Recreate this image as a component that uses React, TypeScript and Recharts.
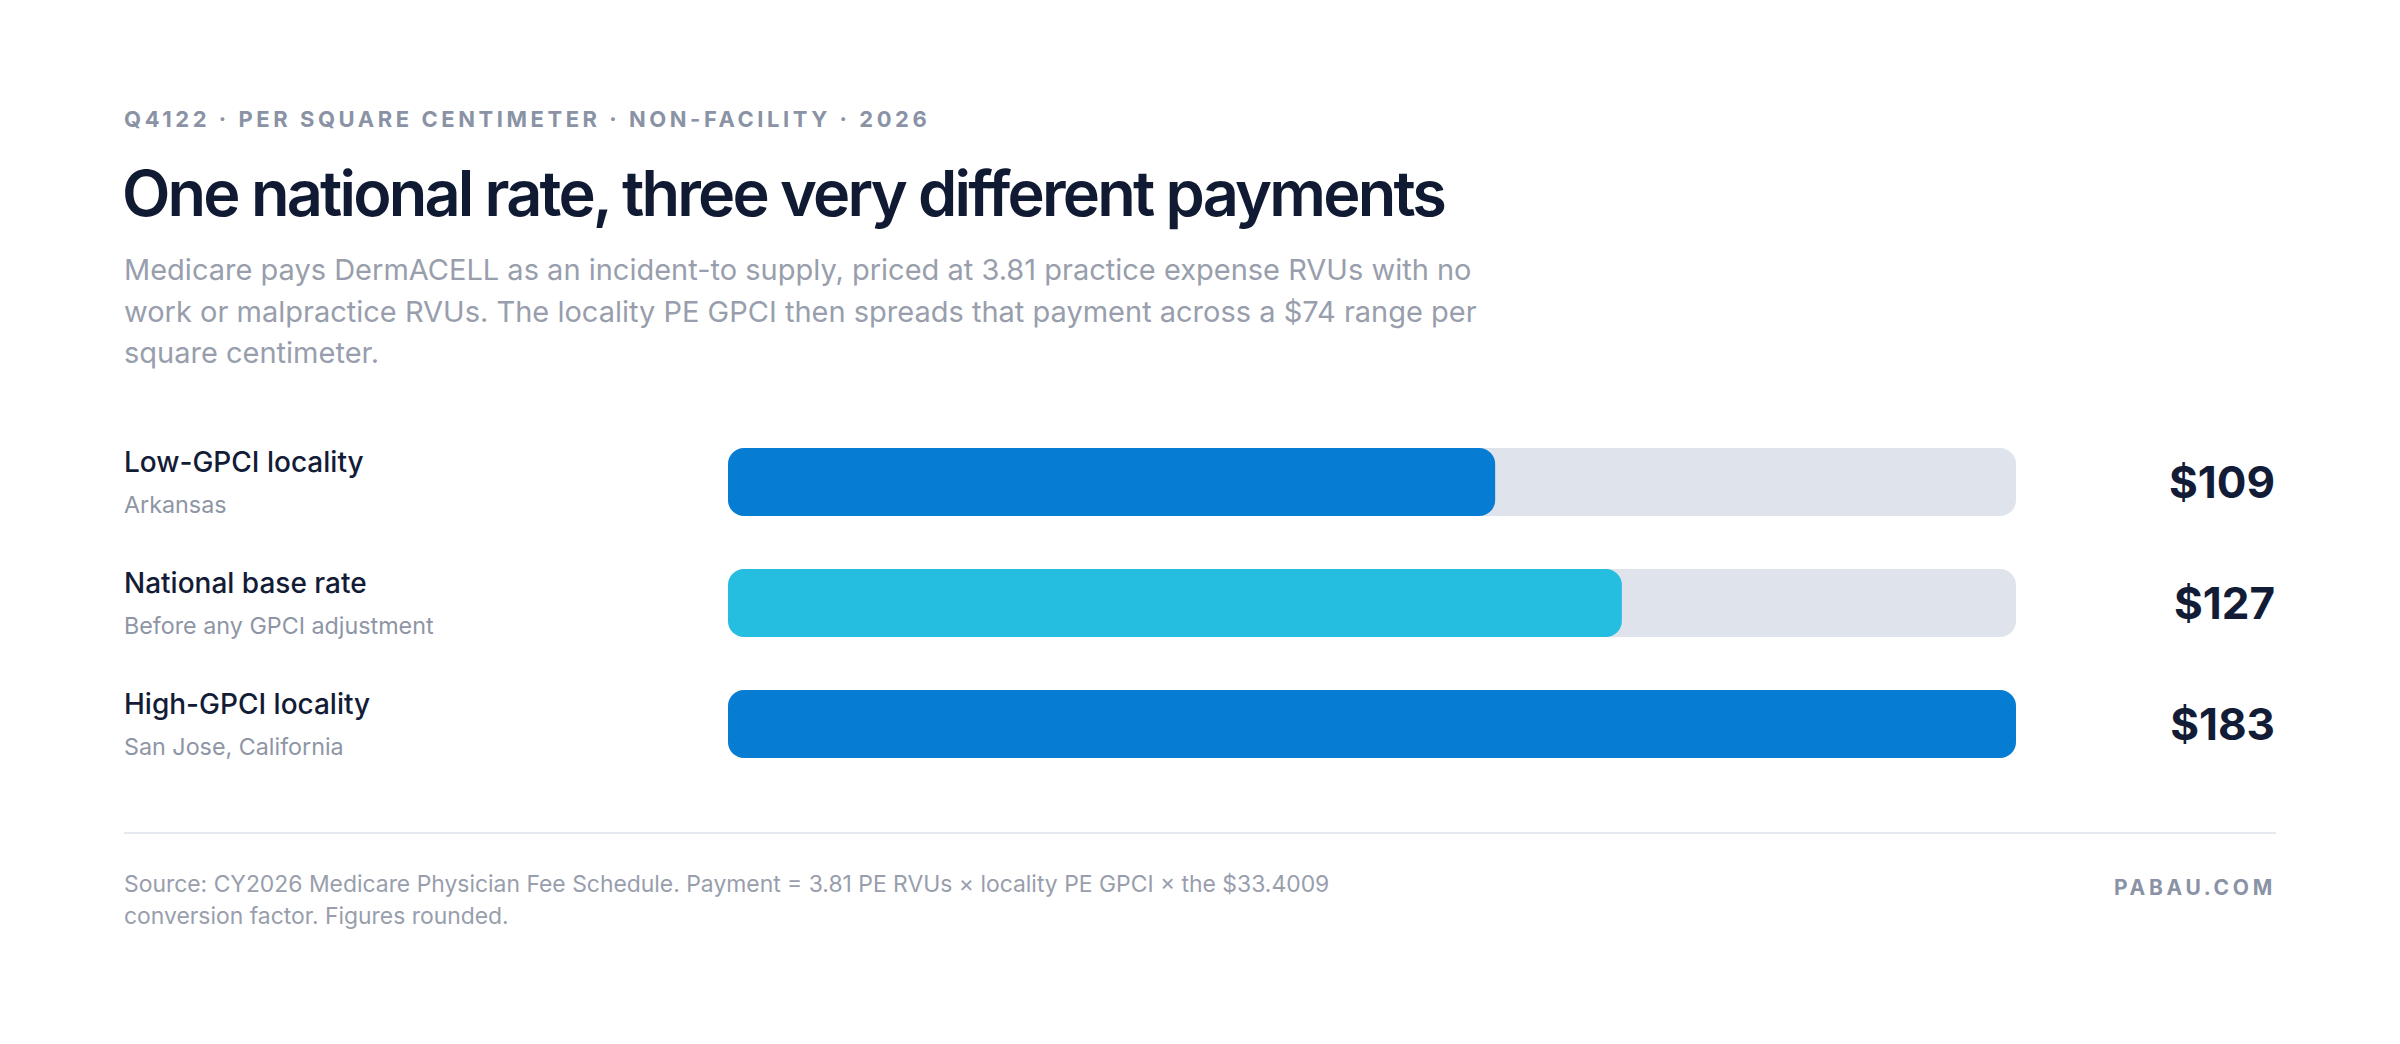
import { Bar, BarChart, Cell, XAxis, YAxis } from 'recharts';

const localities = ['Low-GPCI locality', 'National base rate', 'High-GPCI locality'];
const localityNotes = ['Arkansas', 'Before any GPCI adjustment', 'San Jose, California'];
const payments = [109, 127, 183];
const barColors = ['#067dd3', '#25bde0', '#067dd3'];
const maxPayment = 183;

const data = localities.map((name, i) => ({
  name,
  note: localityNotes[i],
  payment: payments[i],
  paymentLabel: `$${payments[i]}`,
}));

const FONT = 'Inter, "Noto Sans", sans-serif';
const LEFT_AXIS = 604;
const RIGHT_AXIS = 260;

function LocalityTick(props: any) {
  const { y, payload } = props;
  const row = data[payload.index];
  return (
    <g>
      <text x={0} y={y - 10} fontFamily={FONT} fontSize={28} fontWeight={500} fill="#131c36">
        {row.name}
      </text>
      <text x={0} y={y + 31} fontFamily={FONT} fontSize={23.3} fill="#8e95a5">
        {row.note}
      </text>
    </g>
  );
}

function PaymentTick(props: any) {
  const { x, y, payload } = props;
  return (
    <text
      x={x + RIGHT_AXIS - 1}
      y={y + 16}
      textAnchor="end"
      fontFamily={FONT}
      fontSize={44}
      fontWeight={700}
      fill="#131c36"
    >
      {payload.value}
    </text>
  );
}

export default function App() {
  return (
    <div
      style={{
        position: 'absolute',
        left: 0,
        top: 0,
        width: 2400,
        height: 1044,
        background: '#ffffff',
        fontFamily: FONT,
      }}
    >
      <div
        style={{
          position: 'absolute',
          left: 124,
          top: 106,
          fontSize: 22,
          fontWeight: 700,
          letterSpacing: 3.55,
          color: '#8a93a5',
          whiteSpace: 'nowrap',
        }}
      >
        Q4122 · PER SQUARE CENTIMETER · NON-FACILITY · 2026
      </div>
      <div
        style={{
          position: 'absolute',
          left: 122,
          top: 155,
          fontSize: 63,
          fontWeight: 600,
          letterSpacing: -2.8,
          color: '#111a33',
          whiteSpace: 'nowrap',
        }}
      >
        One national rate, three very different payments
      </div>
      <div
        style={{
          position: 'absolute',
          left: 124,
          top: 249,
          fontSize: 29,
          lineHeight: '41.5px',
          color: '#989eac',
          whiteSpace: 'nowrap',
        }}
      >
        Medicare pays DermACELL as an incident-to supply, priced at 3.81 practice expense RVUs with no
        <br />
        work or malpractice RVUs. The locality PE GPCI then spreads that payment across a $74 range per
        <br />
        square centimeter.
      </div>

      <div style={{ position: 'absolute', left: 124, top: 421 }}>
        <BarChart
          width={2152}
          height={363}
          data={data}
          layout="vertical"
          margin={{ top: 0, right: 0, bottom: 0, left: 0 }}
        >
          <XAxis type="number" domain={[0, maxPayment]} hide />
          <YAxis
            yAxisId="left"
            type="category"
            dataKey="name"
            width={LEFT_AXIS}
            axisLine={false}
            tickLine={false}
            tickSize={0}
            tickMargin={0}
            tick={<LocalityTick />}
          />
          <YAxis
            yAxisId="right"
            orientation="right"
            type="category"
            dataKey="paymentLabel"
            width={RIGHT_AXIS}
            axisLine={false}
            tickLine={false}
            tickSize={0}
            tickMargin={0}
            tick={<PaymentTick />}
          />
          <Bar
            yAxisId="left"
            dataKey="payment"
            barSize={68}
            radius={16}
            background={{ fill: '#dfe3ec', radius: 16 }}
            isAnimationActive={false}
          >
            {data.map((d, i) => (
              <Cell key={d.name} fill={barColors[i]} />
            ))}
          </Bar>
        </BarChart>
      </div>

      <div
        style={{
          position: 'absolute',
          left: 124,
          top: 832,
          width: 2152,
          height: 2,
          background: '#e5e8ee',
        }}
      />
      <div
        style={{
          position: 'absolute',
          left: 124,
          top: 868,
          fontSize: 22.9,
          lineHeight: '32px',
          color: '#989eac',
          whiteSpace: 'nowrap',
        }}
      >
        Source: CY2026 Medicare Physician Fee Schedule. Payment = 3.81 PE RVUs × locality PE GPCI × the $33.4009
        <br />
        conversion factor. Figures rounded.
      </div>
      <div
        style={{
          position: 'absolute',
          right: 124,
          top: 875,
          fontSize: 21,
          fontWeight: 700,
          letterSpacing: 3.7,
          color: '#8a93a5',
        }}
      >
        PABAU.COM
      </div>
    </div>
  );
}
